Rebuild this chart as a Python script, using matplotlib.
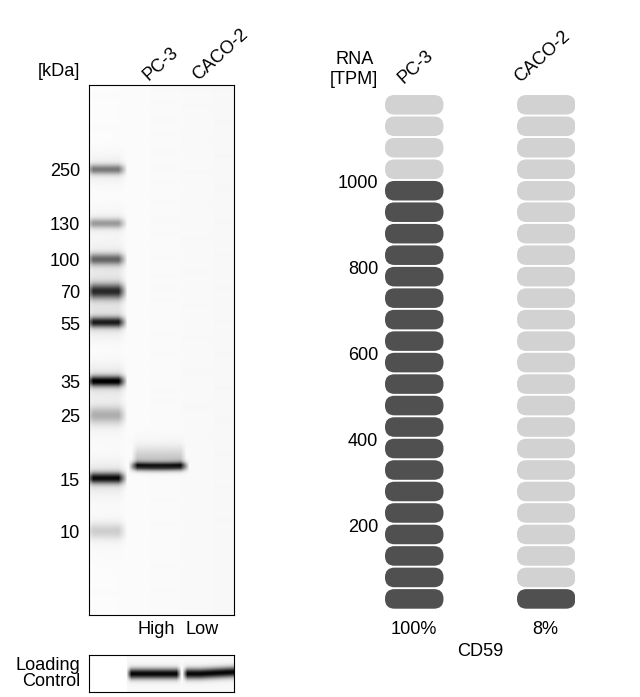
import matplotlib
matplotlib.use('Agg')
import matplotlib.pyplot as plt
from matplotlib.patches import FancyBboxPatch
from matplotlib.transforms import ScaledTranslation
import numpy as np

plt.rcParams['font.family'] = ['Liberation Sans', 'DejaVu Sans']
plt.rcParams['font.size'] = 13.1

W, H = 640, 697

# marker ladder (row = pixel row of the band)
marker_kda = ['250', '130', '100', '70', '55', '35', '25', '15', '10']
marker_row = [169, 223, 259, 291, 322, 381, 415, 478, 531]
marker_dark = [0.46, 0.34, 0.52, 0.74, 0.78, 0.90, 0.27, 0.85, 0.16]
marker_sigma = [3.4, 3.4, 4.0, 5.2, 3.6, 3.6, 6.0, 3.8, 5.5]

lanes = ['PC-3', 'CACO-2']
lane_level = ['High', 'Low']

rna_ticks = [200, 400, 600, 800, 1000]
rna_tpm = [1000, 80]
rna_percent = ['100%', '8%']
gene = 'CD59'
segment_tpm = 50
segment_count = 24


def px_axes(left, top, right, bottom):
    return fig.add_axes([left / W, 1 - bottom / H, (right - left) / W, (bottom - top) / H])


def put_text(x, y, s, **kw):
    fig.text(x / W, 1 - y / H, s, va='center', **kw)


def soft_box(xx, x0, x1, edge):
    return np.clip((xx - x0) / edge, 0, 1) * np.clip((x1 - xx) / edge, 0, 1)


fig = plt.figure(figsize=(W / 100, H / 100), dpi=100)
down_1px = ScaledTranslation(0, -1 / 100, fig.dpi_scale_trans)

# main blot
ax = px_axes(89, 85, 234, 615)
yy, xx = np.mgrid[85:616, 89:235].astype(float)
dark = 0.012 + 0.018 * (xx - 89) / 146
for row, d, s in zip(marker_row, marker_dark, marker_sigma):
    lane = soft_box(xx, 84, 127, 9)
    dark += d * np.exp(-((yy - row) / s) ** 2 / 2) * lane
    dark += 0.12 * d * np.exp(-((yy - row) / (3 * s)) ** 2 / 2) * lane
# PC-3 band and the smear above it
dark += 0.88 * np.exp(-((yy - 466.5 + 0.0006 * (xx - 158) ** 2) / 2.9) ** 2 / 2) * soft_box(xx, 128, 189, 9)
dark += 0.2 * np.exp(-((yy - 460) / 9) ** 2 / 2) * soft_box(xx, 131, 186, 6) * (yy < 466)
ax.imshow(1 - np.clip(dark, 0, 1), cmap='gray', vmin=0, vmax=1, aspect='auto',
          extent=(89, 235, 615.5, 85), interpolation='bilinear')
ax.set_xlim(89, 234)
ax.set_ylim(615, 85)
ax.set_xticks([])
ax.set_yticks(marker_row)
ax.set_yticklabels(marker_kda)
ax.tick_params(axis='y', length=0, pad=6.5)
for lab in ax.get_yticklabels():
    lab.set_transform(lab.get_transform() + down_1px)

# loading control
lc = px_axes(89, 654.5, 234, 692)
yy, xx = np.mgrid[654:693, 89:235].astype(float)
dark = 0.03 * (xx > 126)
band_row = 673.5 - 0.05 * np.clip(xx - 200, 0, None)
dark += 0.95 * np.exp(-((yy - band_row) / 3.6) ** 2 / 2) * (soft_box(xx, 126, 181, 5) + soft_box(xx, 182, 245, 5))
lc.imshow(1 - np.clip(dark, 0, 1), cmap='gray', vmin=0, vmax=1, aspect='auto',
          extent=(89, 235, 693, 654), interpolation='bilinear')
lc.set_xlim(89, 234)
lc.set_ylim(692, 654.5)
lc.set_xticks([])
lc.set_yticks([])

# RNA segments
rna = px_axes(385, 95, 575, 610.6)
rna.set_xlim(385, 575)
rna.set_ylim(0, segment_tpm * segment_count)
tpm_per_px = segment_tpm / 21.48
for col_left, value in zip([385, 517], rna_tpm):
    for i in range(segment_count):
        col = '#505050' if (i + 1) * segment_tpm <= value else '#d2d2d2'
        low = i * segment_tpm + 1.9 * tpm_per_px
        rna.add_patch(FancyBboxPatch((col_left, low), 58.5, segment_tpm - 1.9 * tpm_per_px,
                                     boxstyle='round,pad=0,rounding_size=9.5',
                                     mutation_aspect=tpm_per_px, fc=col, ec='none'))
rna.set_xticks([])
rna.set_yticks(rna_ticks)
rna.tick_params(axis='y', length=0, pad=5)
for lab in rna.get_yticklabels():
    lab.set_transform(lab.get_transform() + down_1px)
for sp in rna.spines.values():
    sp.set_visible(False)
rna.patch.set_visible(False)

# labels
put_text(80, 71, '[kDa]', ha='right')
put_text(161, 64, lanes[0], ha='center', rotation=42, rotation_mode='anchor')
put_text(220, 55, lanes[1], ha='center', rotation=42, rotation_mode='anchor')
put_text(156, 630, lane_level[0], ha='center')
put_text(202, 630, lane_level[1], ha='center')
put_text(80, 665, 'Loading', ha='right')
put_text(80, 682, 'Control', ha='right')
put_text(355, 60, 'RNA', ha='center')
put_text(354, 80, '[TPM]', ha='center')
put_text(416, 67, lanes[0], ha='center', rotation=42, rotation_mode='anchor')
put_text(542, 57, lanes[1], ha='center', rotation=42, rotation_mode='anchor')
put_text(414, 629, rna_percent[0], ha='center')
put_text(545, 629, rna_percent[1], ha='center')
put_text(480, 651, gene, ha='center')

fig.savefig('out.png', dpi=100)
